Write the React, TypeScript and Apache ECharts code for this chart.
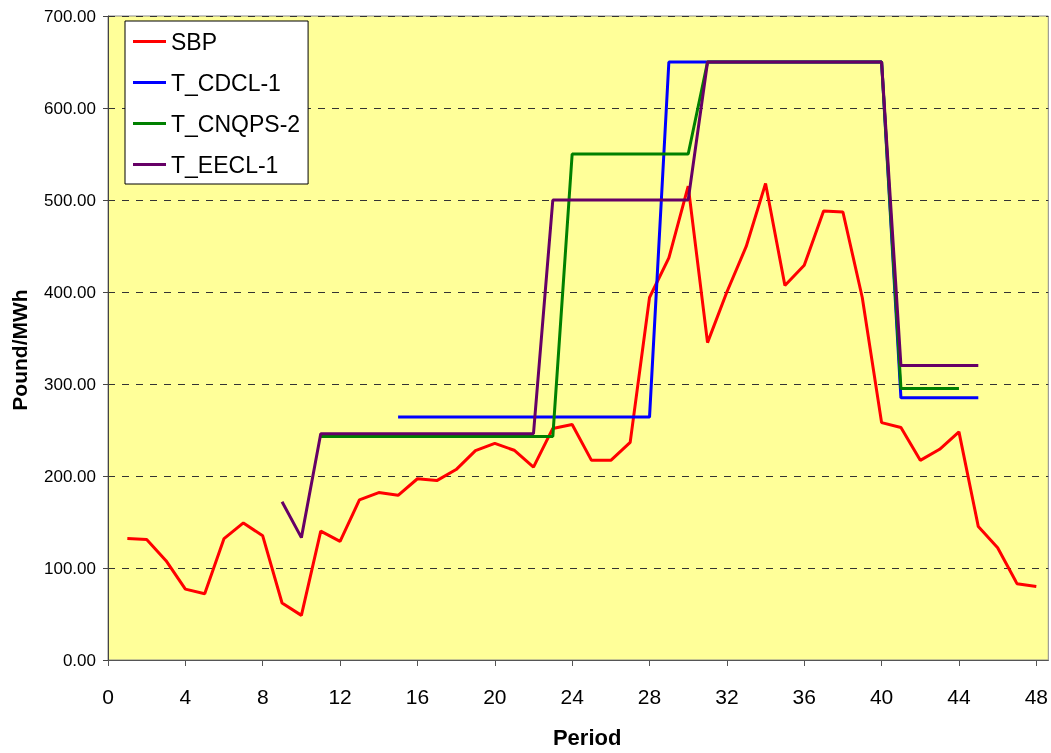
import React, { useEffect, useRef } from "react";
import * as echarts from "echarts";

const periods = [
  1, 2, 3, 4, 5, 6, 7, 8, 9, 10, 11, 12, 13, 14, 15, 16, 17, 18, 19, 20, 21, 22, 23, 24,
  25, 26, 27, 28, 29, 30, 31, 32, 33, 34, 35, 36, 37, 38, 39, 40, 41, 42, 43, 44, 45, 46, 47, 48,
];

const sbp = [
  132, 131, 108, 77, 72, 132, 149, 135, 62, 48.5,
  140, 129, 174, 182, 179, 197, 195, 207, 227.6, 235.5,
  228, 209.6, 251.7, 256, 217, 217, 236.6, 394, 437, 515,
  345, 400, 449.5, 518, 407, 429, 488, 487, 394, 258,
  252.7, 217, 229, 248, 145, 122, 83, 80,
];

const tCdcl1 = [
  null, null, null, null, null, null, null, null, null, null,
  null, null, null, null, 264, 264, 264, 264, 264, 264,
  264, 264, 264, 264, 264, 264, 264, 264, 650, 650,
  650, 650, 650, 650, 650, 650, 650, 650, 650, 650,
  285, 285, 285, 285, 285, null, null, null,
];

const tCnqps2 = [
  null, null, null, null, null, null, null, null, null, null,
  243, 243, 243, 243, 243, 243, 243, 243, 243, 243,
  243, 243, 243, 550, 550, 550, 550, 550, 550, 550,
  650, 650, 650, 650, 650, 650, 650, 650, 650, 650,
  295, 295, 295, 295, null, null, null, null,
];

const tEecl1 = [
  null, null, null, null, null, null, null, null, 172, 133,
  246, 246, 246, 246, 246, 246, 246, 246, 246, 246,
  246, 246, 500, 500, 500, 500, 500, 500, 500, 500,
  650, 650, 650, 650, 650, 650, 650, 650, 650, 650,
  320, 320, 320, 320, 320, null, null, null,
];

const xTicks = [0, 4, 8, 12, 16, 20, 24, 28, 32, 36, 40, 44, 48];

const seriesNames = ["SBP", "T_CDCL-1", "T_CNQPS-2", "T_EECL-1"];
const seriesColors = ["#FF0000", "#0000FF", "#008000", "#660066"];
const seriesValues = [sbp, tCdcl1, tCnqps2, tEecl1];

const FONT = "'Liberation Sans', Arial, sans-serif";

function toPairs(values: (number | null)[]) {
  const out: [number, number][] = [];
  values.forEach((v, i) => {
    if (v !== null) out.push([periods[i], v]);
  });
  return out;
}

export default function App() {
  const ref = useRef<HTMLDivElement>(null);

  useEffect(() => {
    const chart = echarts.init(ref.current!, null, { renderer: "svg" });
    chart.setOption({
      animation: false,
      textStyle: { fontFamily: FONT, color: "#000" },
      grid: {
        left: 108,
        right: -1,
        top: 16,
        bottom: 88,
        show: true,
        backgroundColor: "#FFFF99",
        borderColor: "#888888",
        borderWidth: 1,
      },
      legend: {
        left: 125,
        top: 21,
        orient: "vertical",
        backgroundColor: "#FFFFFF",
        borderColor: "#000000",
        borderWidth: 1,
        padding: [9, 8, 8, 8],
        icon: "rect",
        itemWidth: 33,
        itemHeight: 3,
        itemGap: 18,
        textStyle: { fontSize: 23, fontFamily: FONT, color: "#000" },
        data: seriesNames,
      },
      xAxis: {
        type: "value",
        min: 0,
        max: 48.62,
        interval: 4,
        name: "Period",
        nameLocation: "middle",
        nameGap: 66,
        nameTextStyle: { fontSize: 22, fontWeight: "bold", fontFamily: FONT, color: "#000", padding: [0, 0, 0, 18] },
        axisLine: { show: true, lineStyle: { color: "#555555", width: 1 } },
        axisTick: { show: true, length: 6, lineStyle: { color: "#555555" }, customValues: xTicks },
        axisLabel: { fontSize: 21, margin: 26, color: "#000", fontFamily: FONT, customValues: xTicks },
        splitLine: { show: false },
      },
      yAxis: {
        type: "value",
        min: 0,
        max: 700,
        interval: 100,
        name: "Pound/MWh",
        nameLocation: "middle",
        nameGap: 78,
        nameTextStyle: { fontSize: 21, fontWeight: "bold", fontFamily: FONT, color: "#000", padding: [0, 24, 0, 0] },
        axisLine: { show: true, lineStyle: { color: "#444444", width: 1 } },
        axisTick: { show: true, length: 5, lineStyle: { color: "#444444" } },
        axisLabel: {
          fontSize: 17,
          margin: 12,
          color: "#000",
          fontFamily: FONT,
          formatter: (v: number) => v.toFixed(2),
        },
        splitLine: { show: true, lineStyle: { color: "#333333", type: [7, 7], width: 1 } },
      },
      series: seriesNames.map((name, k) => ({
        name,
        type: "line",
        data: toPairs(seriesValues[k]),
        symbol: "none",
        color: seriesColors[k],
        lineStyle: { color: seriesColors[k], width: 3 },
        z: 2 + k,
      })),
    });
    return () => chart.dispose();
  }, []);

  return (
    <div
      ref={ref}
      style={{ position: "fixed", left: 0, top: 0, width: 1051, height: 753 }}
    />
  );
}
